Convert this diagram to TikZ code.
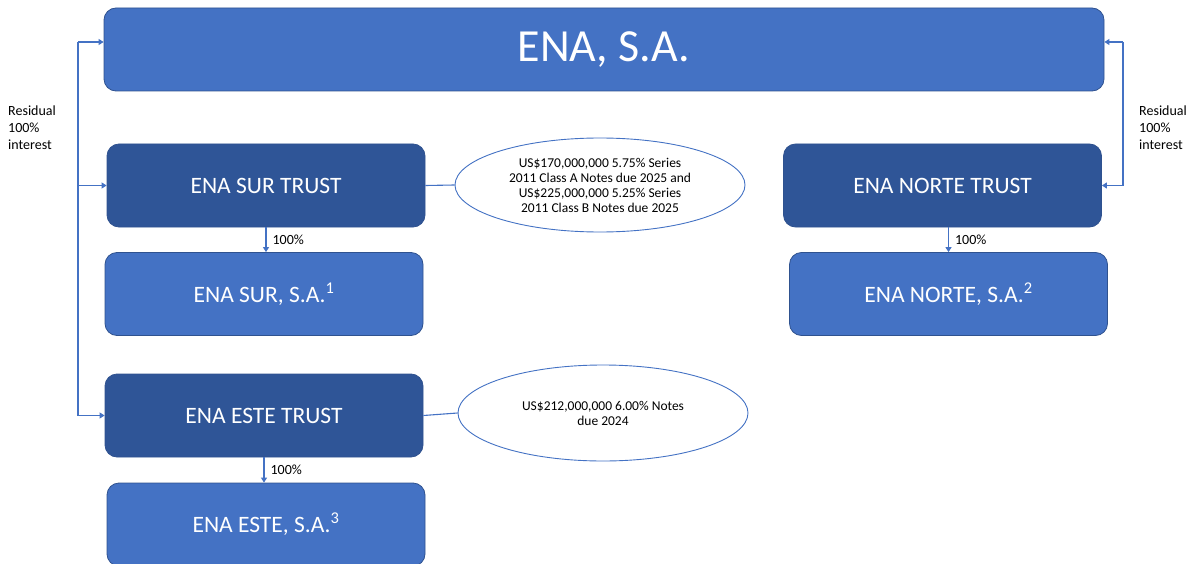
\documentclass[tikz,border=0pt]{standalone}
\usepackage{fontspec}
\setmainfont{Carlito}
\usepackage{tikz}
\usetikzlibrary{arrows.meta, shapes.geometric}
\definecolor{enablue}{HTML}{4472C4}
\definecolor{trustblue}{HTML}{2F5597}
\definecolor{edgeblue}{HTML}{2F528F}

\begin{document}
\begin{tikzpicture}[x=1pt, y=-1pt,
    company/.style={draw=edgeblue, line width=0.8pt, fill=enablue, rounded corners=12pt,
        text=white, inner sep=0pt, minimum width=318pt, minimum height=83pt,
        font=\fontsize{23.5}{28}\selectfont},
    trust/.style={company, fill=trustblue},
    notes/.style={ellipse, draw=enablue, line width=0.9pt, fill=white, inner sep=0pt,
        minimum width=290pt, align=center, font=\fontsize{13.5}{15}\selectfont},
    link/.style={draw=enablue, line width=1.1pt},
    arr/.style={link, -{Triangle[width=6pt,length=5pt]}},
    pct/.style={font=\fontsize{14}{17}\selectfont, inner sep=1pt},
    resid/.style={font=\fontsize{14}{17}\selectfont, align=left, inner sep=0pt}]
    \useasboundingbox (0,0) rectangle (1198,564);

    % parent
    \node[company, minimum width=1000pt, font=\fontsize{46}{55}\selectfont] (ena) at (604,49.5) {ENA, S.A.};

    % trusts and companies
    \node[trust] (sur) at (266,185.5) {ENA SUR TRUST};
    \node[company] (sursa) at (264,294) {ENA SUR, S.A.\textsuperscript{1}};
    \node[trust] (este) at (264,415.5) {ENA ESTE TRUST};
    \node[company] (estesa) at (266,524.5) {ENA ESTE, S.A.\textsuperscript{3}};
    \node[trust] (norte) at (942.5,185.5) {ENA NORTE TRUST};
    \node[company] (nortesa) at (948.5,294) {ENA NORTE, S.A.\textsuperscript{2}};

    % notes
    \node[notes, minimum height=94pt] (surnotes) at (600,185) {US\$170,000,000 5.75\% Series\\2011 Class A Notes due 2025 and\\US\$225,000,000 5.25\% Series\\2011 Class B Notes due 2025};
    \node[notes, minimum height=96pt] (estenotes) at (603,413) {US\$212,000,000 6.00\% Notes\\due 2024};
    \draw[link] (sur.east) -- (surnotes.west);
    \draw[link] (este.east) -- (estenotes.west);

    % ownership
    \draw[arr] (sur.south) -- (sur.south |- sursa.north) node[midway, right=5pt, pct] {100\%};
    \draw[arr] (este.south) -- (este.south |- estesa.north) node[midway, right=5pt, pct] {100\%};
    \draw[arr] (norte.south -| nortesa.north) -- (nortesa.north) node[midway, right=5pt, pct] {100\%};

    % residual interest
    \coordinate (ltop) at (78,42);
    \coordinate (rtop) at (1123,42);
    \draw[link] (ltop) -- (ltop |- este.west);
    \draw[arr] (ltop) -- (ltop -| ena.west);
    \draw[arr] (ltop |- sur.west) -- (sur.west);
    \draw[arr] (ltop |- este.west) -- (este.west);
    \draw[link] (rtop) -- (rtop |- norte.east);
    \draw[arr] (rtop) -- (rtop -| ena.east);
    \draw[arr] (rtop |- norte.east) -- (norte.east);
    \node[resid, anchor=west] (lres) at (8,128) {Residual\\100\%\\interest};
    \node[resid, anchor=west] (rres) at (1139,128) {Residual\\100\%\\interest};
\end{tikzpicture}
\end{document}
